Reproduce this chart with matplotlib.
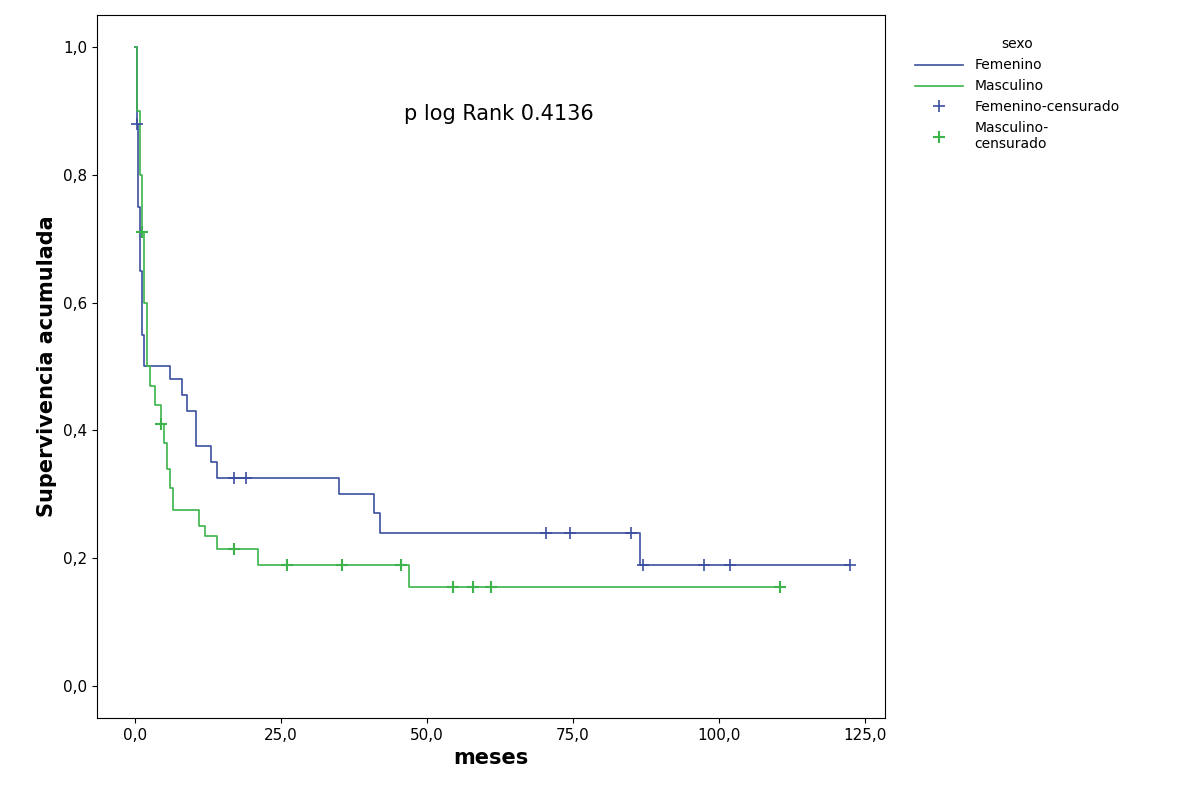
import numpy as np
import matplotlib.pyplot as plt

# Femenino
fem_t = [0, 0.3, 0.6, 0.9, 1.2, 1.5, 6, 8, 9, 10.5, 13, 14, 35, 41, 42, 86.5, 122.5]
fem_s = [1.0, 0.88, 0.75, 0.65, 0.55, 0.50, 0.48, 0.455, 0.43, 0.375, 0.35, 0.325, 0.30, 0.27, 0.24, 0.19, 0.19]
fem_cens_t = [0.3, 17, 19, 70.5, 74.5, 85, 87, 97.5, 102, 122.5]
fem_cens_s = [0.88, 0.325, 0.325, 0.24, 0.24, 0.24, 0.19, 0.19, 0.19, 0.19]

# Masculino
mas_t = [0, 0.4, 0.8, 1.2, 1.6, 2.0, 2.5, 3.5, 4.5, 5.0, 5.5, 6.0, 6.5, 11, 12, 14, 21, 47, 111]
mas_s = [1.0, 0.9, 0.8, 0.71, 0.6, 0.5, 0.47, 0.44, 0.41, 0.38, 0.34, 0.31, 0.275, 0.25, 0.235, 0.215, 0.19, 0.155, 0.155]
mas_cens_t = [1.2, 4.5, 17, 26, 35.5, 45.5, 54.5, 58, 61, 110.5]
mas_cens_s = [0.71, 0.41, 0.215, 0.19, 0.19, 0.19, 0.155, 0.155, 0.155, 0.155]

blue = '#3b4fa0'
green = '#3cb44b'

fig = plt.figure(figsize=(11.79, 8.01), dpi=100)
ax = fig.add_axes([97/1179, 1-718/801, 788/1179, 703/801])

ax.step(fem_t, fem_s, where='post', color=blue, lw=1.2, label='Femenino')
ax.step(mas_t, mas_s, where='post', color=green, lw=1.2, label='Masculino')
ax.plot(fem_cens_t, fem_cens_s, '+', color=blue, ms=9, mew=1.2, label='Femenino-censurado')
ax.plot(mas_cens_t, mas_cens_s, '+', color=green, ms=9, mew=1.5, label='Masculino-\ncensurado')

ax.set_xlim(-6.5, 128.5)
ax.set_ylim(-0.05, 1.05)
ax.set_xticks([0, 25, 50, 75, 100, 125])
ax.set_xticklabels(['0,0', '25,0', '50,0', '75,0', '100,0', '125,0'])
ax.set_yticks([0, 0.2, 0.4, 0.6, 0.8, 1.0])
ax.set_yticklabels(['0,0', '0,2', '0,4', '0,6', '0,8', '1,0'])
ax.tick_params(labelsize=11)
ax.set_xlabel('meses', fontsize=15, fontweight='bold')
ax.set_ylabel('Supervivencia acumulada', fontsize=15, fontweight='bold')
ax.text(0.39, 0.85, 'p log Rank 0.4136', transform=ax.transAxes, fontsize=15)

leg = fig.legend(loc='upper left', bbox_to_anchor=(902/1179, 1-25/801), title='sexo',
                 frameon=False, fontsize=10, title_fontsize=10, handlelength=3.5)

fig.savefig('out.png', dpi=100)
